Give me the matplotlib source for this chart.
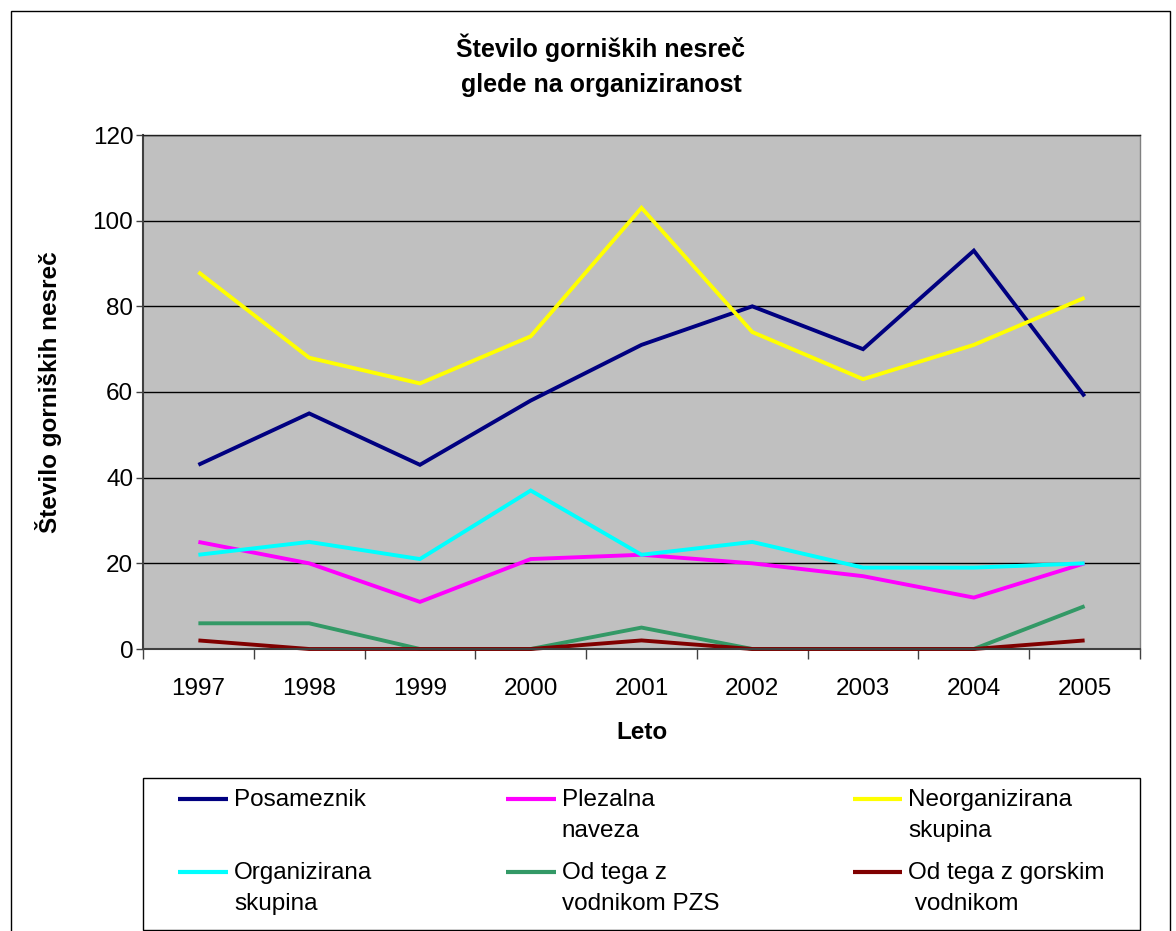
import numpy as np
import matplotlib
matplotlib.use("Agg")
import matplotlib.pyplot as plt
from matplotlib.patches import Rectangle
from matplotlib.legend_handler import HandlerLine2D

plt.rcParams['font.family'] = ['Liberation Sans', 'DejaVu Sans']

years = ['1997', '1998', '1999', '2000', '2001', '2002', '2003', '2004', '2005']
posameznik = [43, 55, 43, 58, 71, 80, 70, 93, 59]
plezalna_naveza = [25, 20, 11, 21, 22, 20, 17, 12, 20]
neorganizirana = [88, 68, 62, 73, 103, 74, 63, 71, 82]
organizirana = [22, 25, 21, 37, 22, 25, 19, 19, 20]
vodnik_pzs = [6, 6, 0, 0, 5, 0, 0, 0, 10]
gorski_vodnik = [2, 0, 0, 0, 2, 0, 0, 0, 2]

series = [
    ("Posameznik\n ", posameznik, "#000080"),
    ("Plezalna\nnaveza", plezalna_naveza, "#FF00FF"),
    ("Neorganizirana\nskupina", neorganizirana, "#FFFF00"),
    ("Organizirana\nskupina", organizirana, "#00FFFF"),
    ("Od tega z\nvodnikom PZS", vodnik_pzs, "#339966"),
    ("Od tega z gorskim\n vodnikom", gorski_vodnik, "#800000"),
]

W, H = 1176, 931
fig = plt.figure(figsize=(W / 100, H / 100), dpi=100)
ax = fig.add_axes([143 / W, 1 - 649 / H, (1140 - 143) / W, (649 - 135) / H])
ax.set_facecolor('#C0C0C0')

x = np.arange(len(years))
handles = []
for label, vals, col in series:
    ln, = ax.plot(x, vals, color=col, lw=2.8, clip_on=False, label=label,
                  solid_joinstyle='miter', solid_capstyle='butt')
    handles.append(ln)

ax.set_xlim(-0.5, len(years) - 0.5)
ax.set_ylim(0, 120)
ax.set_yticks(np.arange(0, 121, 20))
ax.set_xticks(np.arange(-0.5, len(years), 1))
ax.set_xticklabels([])
ax.set_xticks(x, minor=True)
ax.set_xticklabels(years, minor=True)
ax.tick_params(axis='x', which='major', length=7, width=1, color='#404040', direction='out')
ax.tick_params(axis='x', which='minor', length=0, pad=21, labelsize=17.5)
ax.tick_params(axis='y', length=5, width=1, color='#404040', direction='out', pad=2, labelsize=17.5)

ax.yaxis.grid(True, color='black', lw=1)
ax.set_axisbelow(True)
for s in ['left', 'bottom']:
    ax.spines[s].set_color('#404040')
    ax.spines[s].set_linewidth(1.5)
ax.spines['top'].set_color('#202020')
ax.spines['top'].set_linewidth(1)
ax.spines['right'].set_color('#808080')
ax.spines['right'].set_linewidth(1)

ax.set_xlabel('Leto', fontsize=17.5, fontweight='bold')
ax.xaxis.set_label_coords(0.5, -0.14)
ax.set_ylabel('Število gorniških nesreč', fontsize=17.5, fontweight='bold')
ax.yaxis.set_label_coords(-0.081, 0.5)

fig.text(601 / W, 1 - 65 / H, 'Število gorniških nesreč\nglede na organiziranost',
         ha='center', va='center', fontsize=18, fontweight='bold', linespacing=1.6)

# outer chart border
fig.patches.append(Rectangle((11 / W, -0.01), (1170 - 11) / W, 1 - 11 / H + 0.01,
                             transform=fig.transFigure, fill=False, ec='black', lw=1))

LEG_FS = 17.5
LINESP = 1.55


class FirstLineHandler(HandlerLine2D):
    def create_artists(self, legend, orig_handle, xdescent, ydescent, width,
                       height, fontsize, trans):
        arts = super().create_artists(legend, orig_handle, xdescent, ydescent,
                                      width, height, fontsize, trans)
        for a in arts:
            a.set_ydata(np.asarray(a.get_ydata(), dtype=float) + 0.5 * LINESP * fontsize * 0.86)
        return arts


# matplotlib fills legend column by column; reorder so entries read row by row
order = [0, 3, 1, 4, 2, 5]
leg = fig.legend(handles=[handles[i] for i in order],
                 labels=[series[i][0] for i in order], ncol=3,
                 loc='upper left', bbox_to_anchor=(178 / W, 1 - 789 / H, (1105 - 178) / W, 0),
                 mode='expand', frameon=False, fontsize=LEG_FS, handlelength=2.05,
                 handletextpad=0.25, labelspacing=0.8, borderaxespad=0, borderpad=0,
                 handler_map={matplotlib.lines.Line2D: FirstLineHandler()})
for t in leg.get_texts():
    t.set_linespacing(LINESP)
for h in leg.legend_handles:
    h.set_linewidth(3)

fig.patches.append(Rectangle((143 / W, 1 - 930 / H), (1140 - 143) / W, (930 - 778) / H,
                             transform=fig.transFigure, fill=False, ec='black', lw=1))

fig.savefig('out.png', dpi=100)
